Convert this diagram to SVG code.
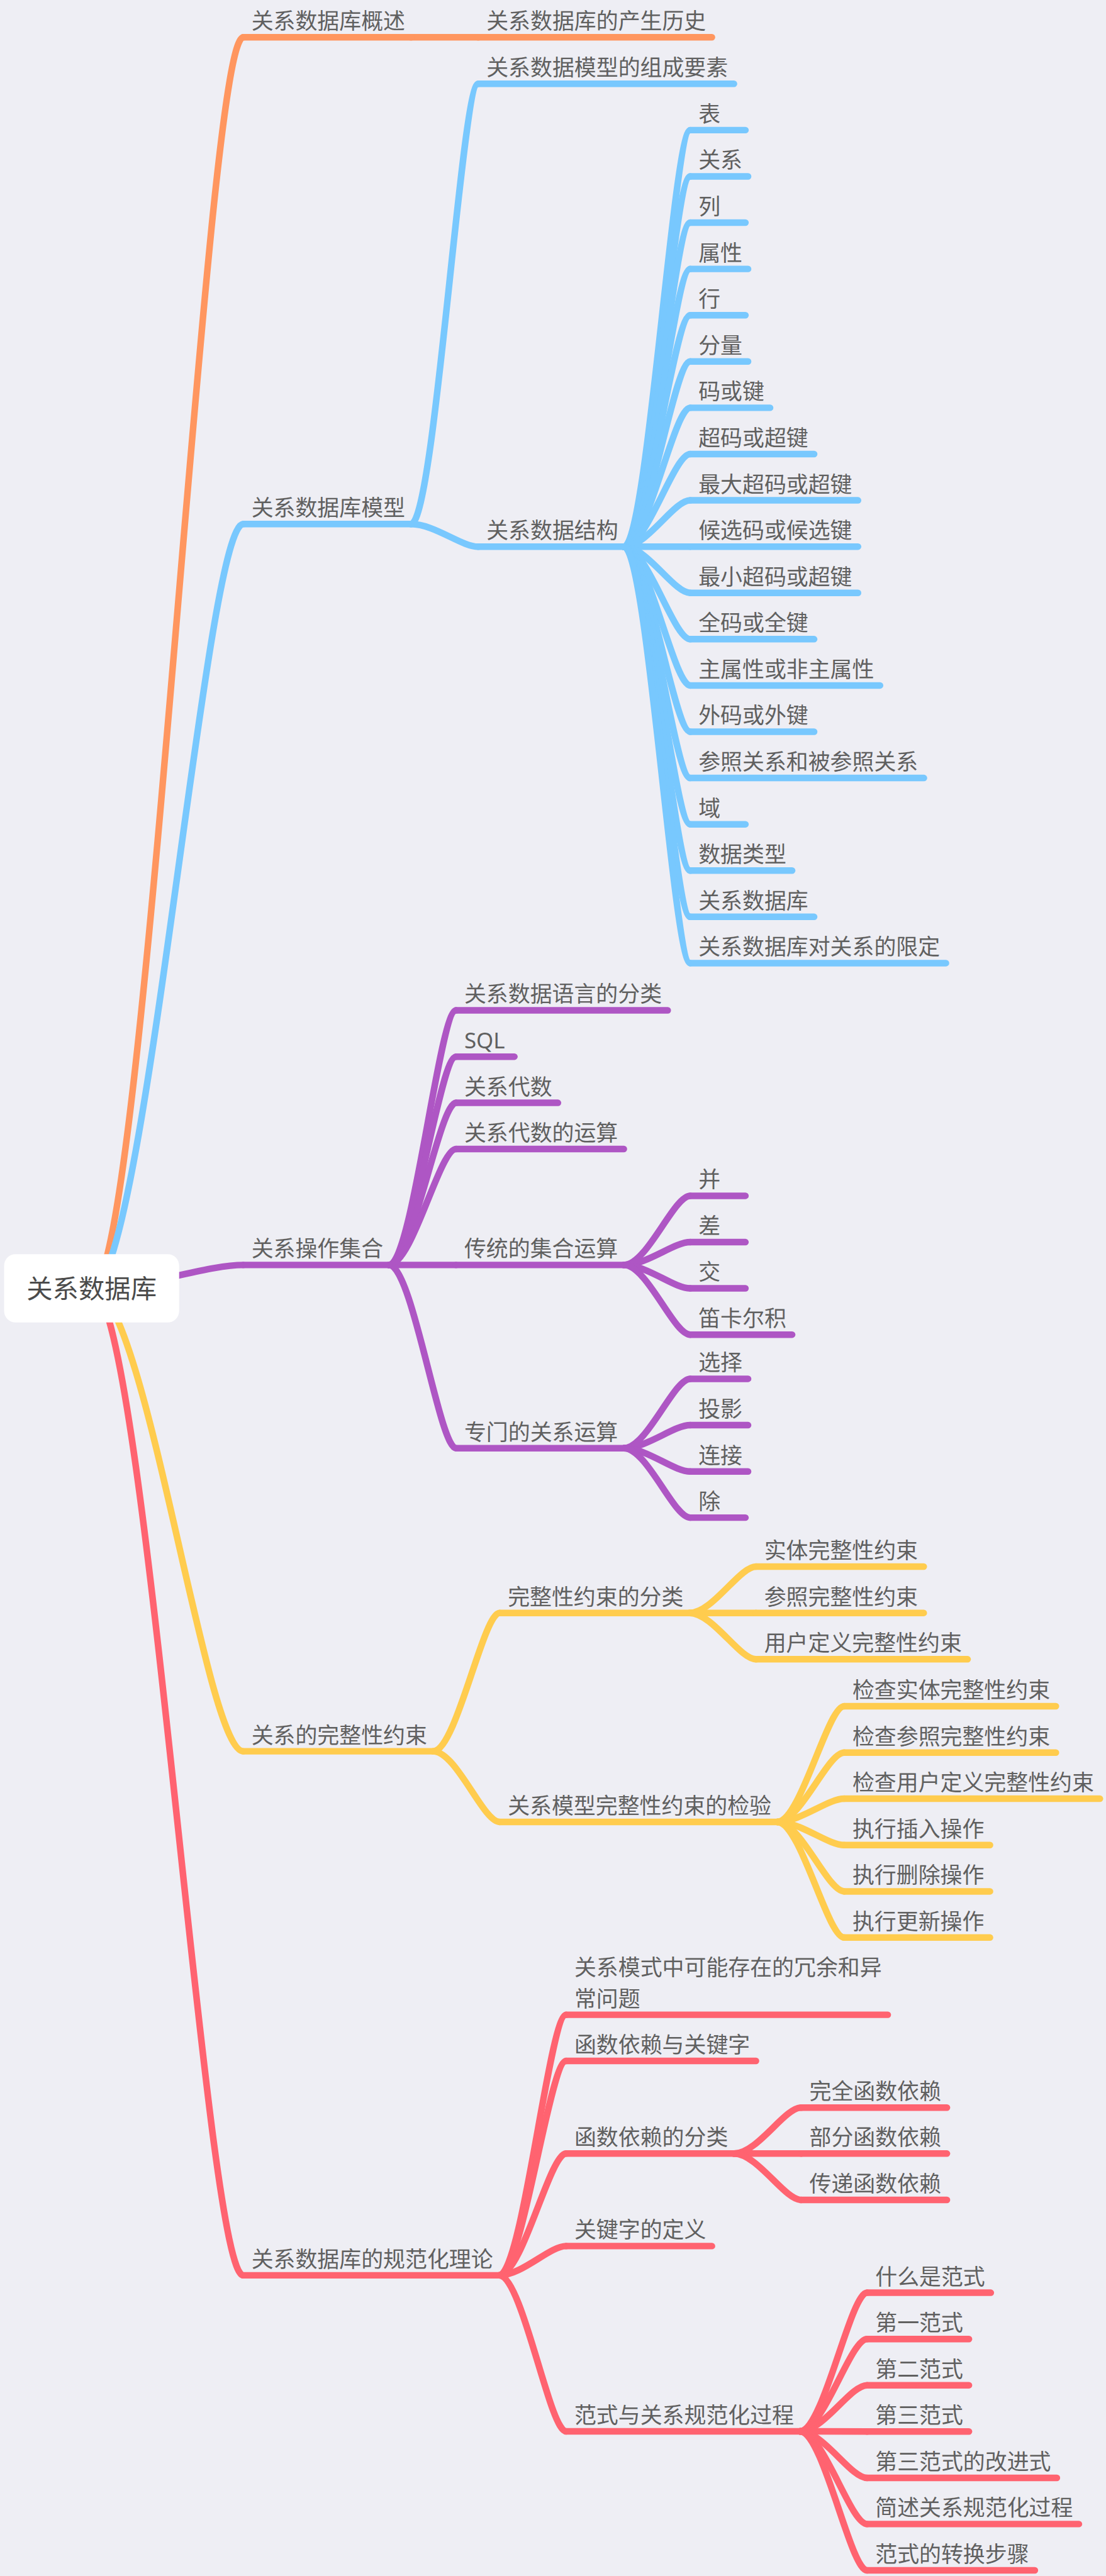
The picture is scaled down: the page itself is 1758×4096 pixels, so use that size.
<svg xmlns="http://www.w3.org/2000/svg" width="1758" height="4096" viewBox="0 0 1758 4096">
<style>
.t{font-family:"Noto Sans","Noto Sans CJK SC",sans-serif;font-size:13.37px;fill:#606060}
.rt{font-family:"Noto Sans","Noto Sans CJK SC",sans-serif;font-size:15.84px;fill:#4b4b4b;text-anchor:middle}
.u,.c{fill:none;stroke-width:4;stroke-linecap:round;stroke-linejoin:round}
.o{stroke:#FF965F}.b{stroke:#78C8FE}.p{stroke:#AE56C4}.y{stroke:#FFCC4E}.r{stroke:#FF6370}
</style>
<rect x="0" y="0" width="1758" height="4096" fill="#EEEEF4"/>
<g transform="scale(2.6122)">
<g id="connectors">
<path class="c o" d="M55.75 784.2C88.04 784.2 124.94 22.7 148 22.7"/>
<path class="c b" d="M55.75 784.2C88.04 784.2 124.94 319 148 319"/>
<path class="c p" d="M55.75 784.2C88.04 784.2 124.94 770 148 770"/>
<path class="c y" d="M55.75 784.2C88.04 784.2 124.94 1066 148 1066"/>
<path class="c r" d="M55.75 784.2C88.04 784.2 124.94 1385 148 1385"/>
<path class="c o" d="M250.1 22.7H291"/>
<path class="c b" d="M250.1 319C264.4 319 280.8 51 291 51"/>
<path class="c b" d="M250.1 319C264.4 319 280.8 332.8 291 332.8"/>
<path class="c b" d="M379.7 332.8C393.8 332.8 409.9 79.2 420 79.2"/>
<path class="c b" d="M379.7 332.8C393.8 332.8 409.9 107.37 420 107.37"/>
<path class="c b" d="M379.7 332.8C393.8 332.8 409.9 135.54 420 135.54"/>
<path class="c b" d="M379.7 332.8C393.8 332.8 409.9 163.71 420 163.71"/>
<path class="c b" d="M379.7 332.8C393.8 332.8 409.9 191.88 420 191.88"/>
<path class="c b" d="M379.7 332.8C393.8 332.8 409.9 220.05 420 220.05"/>
<path class="c b" d="M379.7 332.8C393.8 332.8 409.9 248.22 420 248.22"/>
<path class="c b" d="M379.7 332.8C393.8 332.8 409.9 276.39 420 276.39"/>
<path class="c b" d="M379.7 332.8C393.8 332.8 409.9 304.56 420 304.56"/>
<path class="c b" d="M379.7 332.8C393.8 332.8 409.9 332.73 420 332.73"/>
<path class="c b" d="M379.7 332.8C393.8 332.8 409.9 360.9 420 360.9"/>
<path class="c b" d="M379.7 332.8C393.8 332.8 409.9 389.07 420 389.07"/>
<path class="c b" d="M379.7 332.8C393.8 332.8 409.9 417.24 420 417.24"/>
<path class="c b" d="M379.7 332.8C393.8 332.8 409.9 445.41 420 445.41"/>
<path class="c b" d="M379.7 332.8C393.8 332.8 409.9 473.58 420 473.58"/>
<path class="c b" d="M379.7 332.8C393.8 332.8 409.9 501.75 420 501.75"/>
<path class="c b" d="M379.7 332.8C393.8 332.8 409.9 529.92 420 529.92"/>
<path class="c b" d="M379.7 332.8C393.8 332.8 409.9 558.09 420 558.09"/>
<path class="c b" d="M379.7 332.8C393.8 332.8 409.9 586.26 420 586.26"/>
<path class="c p" d="M236.7 770C251 770 267.3 615 277.5 615"/>
<path class="c p" d="M236.7 770C251 770 267.3 643.2 277.5 643.2"/>
<path class="c p" d="M236.7 770C251 770 267.3 671.3 277.5 671.3"/>
<path class="c p" d="M236.7 770C251 770 267.3 699.4 277.5 699.4"/>
<path class="c p" d="M236.7 770H277.5"/>
<path class="c p" d="M236.7 770C251 770 267.3 881.5 277.5 881.5"/>
<path class="c p" d="M379.6 770C393.7 770 409.9 727.9 420 727.9"/>
<path class="c p" d="M379.6 770C393.7 770 409.9 756.1 420 756.1"/>
<path class="c p" d="M379.6 770C393.7 770 409.9 784.2 420 784.2"/>
<path class="c p" d="M379.6 770C393.7 770 409.9 812.4 420 812.4"/>
<path class="c p" d="M379.6 881.5C393.7 881.5 409.9 839.3 420 839.3"/>
<path class="c p" d="M379.6 881.5C393.7 881.5 409.9 867.5 420 867.5"/>
<path class="c p" d="M379.6 881.5C393.7 881.5 409.9 895.7 420 895.7"/>
<path class="c p" d="M379.6 881.5C393.7 881.5 409.9 923.8 420 923.8"/>
<path class="c y" d="M263.5 1066C277.7 1066 293.9 981.8 304 981.8"/>
<path class="c y" d="M263.5 1066C277.7 1066 293.9 1109 304 1109"/>
<path class="c y" d="M419.5 981.8C433.7 981.8 449.9 953.6 460 953.6"/>
<path class="c y" d="M419.5 981.8H460"/>
<path class="c y" d="M419.5 981.8C433.7 981.8 449.9 1010 460 1010"/>
<path class="c y" d="M472.9 1109C487.2 1109 503.5 1038.6 513.7 1038.6"/>
<path class="c y" d="M472.9 1109C487.2 1109 503.5 1066.8 513.7 1066.8"/>
<path class="c y" d="M472.9 1109C487.2 1109 503.5 1094.9 513.7 1094.9"/>
<path class="c y" d="M472.9 1109C487.2 1109 503.5 1123.1 513.7 1123.1"/>
<path class="c y" d="M472.9 1109C487.2 1109 503.5 1151.3 513.7 1151.3"/>
<path class="c y" d="M472.9 1109C487.2 1109 503.5 1179.4 513.7 1179.4"/>
<path class="c r" d="M303.6 1385C317.9 1385 334.3 1226.4 344.5 1226.4"/>
<path class="c r" d="M303.6 1385C317.9 1385 334.3 1254.5 344.5 1254.5"/>
<path class="c r" d="M303.6 1385C317.9 1385 334.3 1310.9 344.5 1310.9"/>
<path class="c r" d="M303.6 1385C317.9 1385 334.3 1367.2 344.5 1367.2"/>
<path class="c r" d="M303.6 1385C317.9 1385 334.3 1480 344.5 1480"/>
<path class="c r" d="M446.6 1310.9C460.9 1310.9 477.3 1282.9 487.5 1282.9"/>
<path class="c r" d="M446.6 1310.9H487.5"/>
<path class="c r" d="M446.6 1310.9C460.9 1310.9 477.3 1339.1 487.5 1339.1"/>
<path class="c r" d="M486.7 1480C501 1480 517.4 1395.6 527.6 1395.6"/>
<path class="c r" d="M486.7 1480C501 1480 517.4 1423.8 527.6 1423.8"/>
<path class="c r" d="M486.7 1480C501 1480 517.4 1451.9 527.6 1451.9"/>
<path class="c r" d="M486.7 1480C501 1480 517.4 1480.1 527.6 1480.1"/>
<path class="c r" d="M486.7 1480C501 1480 517.4 1508.3 527.6 1508.3"/>
<path class="c r" d="M486.7 1480C501 1480 517.4 1536.4 527.6 1536.4"/>
<path class="c r" d="M486.7 1480C501 1480 517.4 1564.6 527.6 1564.6"/>
</g>

<g id="root"><rect x="2.5" y="763.4" width="106.5" height="41.6" rx="7" fill="#FFFFFF"/><text class="rt" x="55.75" y="790.2">关系数据库</text></g>

<g id="n1"><path class="u o" d="M148 22.7H250.1"/><text class="t" x="153" y="17.7">关系数据库概述</text></g>
<g id="n1-1"><path class="u o" d="M291 22.7H433.2"/><text class="t" x="296" y="17.7">关系数据库的产生历史</text></g>

<g id="n2"><path class="u b" d="M148 319H250.1"/><text class="t" x="153" y="314">关系数据库模型</text></g>
<g id="n2-1"><path class="u b" d="M291 51H446.6"/><text class="t" x="296" y="46">关系数据模型的组成要素</text></g>
<g id="n2-2"><path class="u b" d="M291 332.8H379.7"/><text class="t" x="296" y="327.8">关系数据结构</text></g>
<g id="n2-2-1"><path class="u b" d="M420 79.2H453.6"/><text class="t" x="425" y="74.2">表</text></g>
<g id="n2-2-2"><path class="u b" d="M420 107.37H455.2"/><text class="t" x="425" y="102.37">关系</text></g>
<g id="n2-2-3"><path class="u b" d="M420 135.54H453.6"/><text class="t" x="425" y="130.54">列</text></g>
<g id="n2-2-4"><path class="u b" d="M420 163.71H455.2"/><text class="t" x="425" y="158.71">属性</text></g>
<g id="n2-2-5"><path class="u b" d="M420 191.88H453.6"/><text class="t" x="425" y="186.88">行</text></g>
<g id="n2-2-6"><path class="u b" d="M420 220.05H455.2"/><text class="t" x="425" y="215.05">分量</text></g>
<g id="n2-2-7"><path class="u b" d="M420 248.22H468.6"/><text class="t" x="425" y="243.22">码或键</text></g>
<g id="n2-2-8"><path class="u b" d="M420 276.39H495.4"/><text class="t" x="425" y="271.39">超码或超键</text></g>
<g id="n2-2-9"><path class="u b" d="M420 304.56H522.1"/><text class="t" x="425" y="299.56">最大超码或超键</text></g>
<g id="n2-2-10"><path class="u b" d="M420 332.73H522.1"/><text class="t" x="425" y="327.73">候选码或候选键</text></g>
<g id="n2-2-11"><path class="u b" d="M420 360.9H522.1"/><text class="t" x="425" y="355.9">最小超码或超键</text></g>
<g id="n2-2-12"><path class="u b" d="M420 389.07H495.4"/><text class="t" x="425" y="384.07">全码或全键</text></g>
<g id="n2-2-13"><path class="u b" d="M420 417.24H535.5"/><text class="t" x="425" y="412.24">主属性或非主属性</text></g>
<g id="n2-2-14"><path class="u b" d="M420 445.41H495.4"/><text class="t" x="425" y="440.41">外码或外键</text></g>
<g id="n2-2-15"><path class="u b" d="M420 473.58H562.2"/><text class="t" x="425" y="468.58">参照关系和被参照关系</text></g>
<g id="n2-2-16"><path class="u b" d="M420 501.75H453.6"/><text class="t" x="425" y="496.75">域</text></g>
<g id="n2-2-17"><path class="u b" d="M420 529.92H482"/><text class="t" x="425" y="524.92">数据类型</text></g>
<g id="n2-2-18"><path class="u b" d="M420 558.09H495.4"/><text class="t" x="425" y="553.09">关系数据库</text></g>
<g id="n2-2-19"><path class="u b" d="M420 586.26H575.6"/><text class="t" x="425" y="581.26">关系数据库对关系的限定</text></g>

<g id="n3"><path class="u p" d="M148 770H236.7"/><text class="t" x="153" y="765">关系操作集合</text></g>
<g id="n3-1"><path class="u p" d="M277.5 615H406.3"/><text class="t" x="282.5" y="610">关系数据语言的分类</text></g>
<g id="n3-2"><path class="u p" d="M277.5 643.2H313"/><text class="t" x="282.5" y="638.2">SQL</text></g>
<g id="n3-3"><path class="u p" d="M277.5 671.3H339.5"/><text class="t" x="282.5" y="666.3">关系代数</text></g>
<g id="n3-4"><path class="u p" d="M277.5 699.4H379.6"/><text class="t" x="282.5" y="694.4">关系代数的运算</text></g>
<g id="n3-5"><path class="u p" d="M277.5 770H379.6"/><text class="t" x="282.5" y="765">传统的集合运算</text></g>
<g id="n3-5-1"><path class="u p" d="M420 727.9H453.6"/><text class="t" x="425" y="722.9">并</text></g>
<g id="n3-5-2"><path class="u p" d="M420 756.1H453.6"/><text class="t" x="425" y="751.1">差</text></g>
<g id="n3-5-3"><path class="u p" d="M420 784.2H453.6"/><text class="t" x="425" y="779.2">交</text></g>
<g id="n3-5-4"><path class="u p" d="M420 812.4H482"/><text class="t" x="425" y="807.4">笛卡尔积</text></g>
<g id="n3-6"><path class="u p" d="M277.5 881.5H379.6"/><text class="t" x="282.5" y="876.5">专门的关系运算</text></g>
<g id="n3-6-1"><path class="u p" d="M420 839.3H455.2"/><text class="t" x="425" y="834.3">选择</text></g>
<g id="n3-6-2"><path class="u p" d="M420 867.5H455.2"/><text class="t" x="425" y="862.5">投影</text></g>
<g id="n3-6-3"><path class="u p" d="M420 895.7H455.2"/><text class="t" x="425" y="890.7">连接</text></g>
<g id="n3-6-4"><path class="u p" d="M420 923.8H453.6"/><text class="t" x="425" y="918.8">除</text></g>

<g id="n4"><path class="u y" d="M148 1066H263.5"/><text class="t" x="153" y="1061">关系的完整性约束</text></g>
<g id="n4-1"><path class="u y" d="M304 981.8H419.5"/><text class="t" x="309" y="976.8">完整性约束的分类</text></g>
<g id="n4-1-1"><path class="u y" d="M460 953.6H562.1"/><text class="t" x="465" y="948.6">实体完整性约束</text></g>
<g id="n4-1-2"><path class="u y" d="M460 981.8H562.1"/><text class="t" x="465" y="976.8">参照完整性约束</text></g>
<g id="n4-1-3"><path class="u y" d="M460 1010H588.8"/><text class="t" x="465" y="1005">用户定义完整性约束</text></g>
<g id="n4-2"><path class="u y" d="M304 1109H472.9"/><text class="t" x="309" y="1104">关系模型完整性约束的检验</text></g>
<g id="n4-2-1"><path class="u y" d="M513.7 1038.6H642.5"/><text class="t" x="518.7" y="1033.6">检查实体完整性约束</text></g>
<g id="n4-2-2"><path class="u y" d="M513.7 1066.8H642.5"/><text class="t" x="518.7" y="1061.8">检查参照完整性约束</text></g>
<g id="n4-2-3"><path class="u y" d="M513.7 1094.9H669.3"/><text class="t" x="518.7" y="1089.9">检查用户定义完整性约束</text></g>
<g id="n4-2-4"><path class="u y" d="M513.7 1123.1H602.4"/><text class="t" x="518.7" y="1118.1">执行插入操作</text></g>
<g id="n4-2-5"><path class="u y" d="M513.7 1151.3H602.4"/><text class="t" x="518.7" y="1146.3">执行删除操作</text></g>
<g id="n4-2-6"><path class="u y" d="M513.7 1179.4H602.4"/><text class="t" x="518.7" y="1174.4">执行更新操作</text></g>

<g id="n5"><path class="u r" d="M148 1385H303.6"/><text class="t" x="153" y="1380">关系数据库的规范化理论</text></g>
<g id="n5-1"><path class="u r" d="M344.5 1226.4H540.2"/><text class="t" x="349.5" y="1202.6">关系模式中可能存在的冗余和异<tspan x="349.5" y="1221.5">常问题</tspan></text></g>
<g id="n5-2"><path class="u r" d="M344.5 1254.5H460"/><text class="t" x="349.5" y="1249.5">函数依赖与关键字</text></g>
<g id="n5-3"><path class="u r" d="M344.5 1310.9H446.6"/><text class="t" x="349.5" y="1305.9">函数依赖的分类</text></g>
<g id="n5-3-1"><path class="u r" d="M487.5 1282.9H576.2"/><text class="t" x="492.5" y="1277.9">完全函数依赖</text></g>
<g id="n5-3-2"><path class="u r" d="M487.5 1310.9H576.2"/><text class="t" x="492.5" y="1305.9">部分函数依赖</text></g>
<g id="n5-3-3"><path class="u r" d="M487.5 1339.1H576.2"/><text class="t" x="492.5" y="1334.1">传递函数依赖</text></g>
<g id="n5-4"><path class="u r" d="M344.5 1367.2H433.2"/><text class="t" x="349.5" y="1362.2">关键字的定义</text></g>
<g id="n5-5"><path class="u r" d="M344.5 1480H486.7"/><text class="t" x="349.5" y="1475">范式与关系规范化过程</text></g>
<g id="n5-5-1"><path class="u r" d="M527.6 1395.6H602.9"/><text class="t" x="532.6" y="1390.6">什么是范式</text></g>
<g id="n5-5-2"><path class="u r" d="M527.6 1423.8H589.6"/><text class="t" x="532.6" y="1418.8">第一范式</text></g>
<g id="n5-5-3"><path class="u r" d="M527.6 1451.9H589.6"/><text class="t" x="532.6" y="1446.9">第二范式</text></g>
<g id="n5-5-4"><path class="u r" d="M527.6 1480.1H589.6"/><text class="t" x="532.6" y="1475.1">第三范式</text></g>
<g id="n5-5-5"><path class="u r" d="M527.6 1508.3H643.1"/><text class="t" x="532.6" y="1503.3">第三范式的改进式</text></g>
<g id="n5-5-6"><path class="u r" d="M527.6 1536.4H656.5"/><text class="t" x="532.6" y="1531.4">简述关系规范化过程</text></g>
<g id="n5-5-7"><path class="u r" d="M527.6 1564.6H629.7"/><text class="t" x="532.6" y="1559.6">范式的转换步骤</text></g>
</g>
</svg>
